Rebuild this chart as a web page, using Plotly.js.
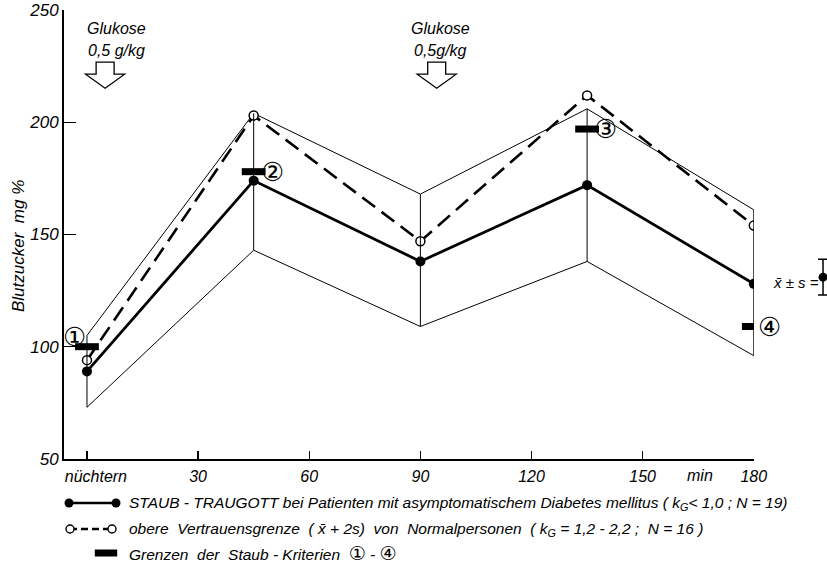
<!DOCTYPE html>
<html>
<head>
<meta charset="utf-8">
<script src="https://cdn.plot.ly/plotly-3.0.1.min.js"></script>
<style>html,body{margin:0;padding:0;background:#fff;}#chart{width:827px;height:571px;}</style>
</head>
<body>
<div id="chart"></div>
<script>
// ---- data ----
const times = [0, 45, 90, 135, 180];
const meanBZ = [89, 174, 138, 172, 128];          // STAUB-TRAUGOTT, Diabetes (x̄)
const upperBand = [105, 204, 168, 206, 161];      // x̄ + s
const lowerBand = [73, 143, 109, 138, 96];        // x̄ - s
const normalUpper = [94, 203, 147, 212, 154];     // obere Vertrauensgrenze (x̄+2s) Normalpersonen
const staubX = [0, 45, 135, 180];
const staubY = [100, 178, 197, 109];
const staubLabels = ['①', '②', '③', '④'];
const xTickVals = [0, 30, 60, 90, 120, 150, 180];
const xTickText = ['\u00a0\u00a0\u00a0\u00a0nüchtern', '30', '60', '90', '120', '150', '180'];
const yTickVals = [50, 100, 150, 200, 250];
const glucoseTimes = [4.9, 94.4];
const glucoseDose = ['0,5 g/kg', '0,5g/kg'];
const keyMean = [131];
const keyS = [8];

// ---- styling / layout constants ----
const FONT = '"Liberation Sans", Arial, sans-serif';
const W = 827, H = 571;
const plotL = 64, plotR = 754, plotT = 10, plotB = 459;
const staubShift = [[-12, 10], [19, 0], [18, 0], [16, 0]];
const glucoseTextShift = [11, 4];
const arrowPath = 'M -9 0 L 9 0 L 9 -12 L 19.5 -12 L 0 -26 L -19.5 -12 L -9 -12 Z';
const legendRowY = [503, 529, 553];
const legendTextX = 127;
const CIRC = s => '<span style="font-family:DejaVu Sans;font-size:19px">' + s + '</span>';

const traces = [];
traces.push({x: times, y: upperBand, mode: 'lines', line: {color: '#000', width: 1}, hoverinfo: 'skip'});
traces.push({x: times, y: lowerBand, mode: 'lines', line: {color: '#000', width: 1}, hoverinfo: 'skip'});
traces.push({x: times, y: normalUpper, mode: 'lines+markers',
  line: {color: '#000', width: 2.6, dash: '16px,8px'},
  marker: {symbol: 'circle', size: 9, color: '#fff', line: {color: '#000', width: 1.5}}});
traces.push({x: times, y: meanBZ, mode: 'lines+markers',
  line: {color: '#000', width: 2.8},
  marker: {symbol: 'circle', size: 10, color: '#000'},
  error_y: {type: 'data', symmetric: false,
    array: upperBand.map((u, i) => u - meanBZ[i]),
    arrayminus: lowerBand.map((l, i) => meanBZ[i] - l),
    width: 0, thickness: 1, color: '#000'}});
traces.push({x: staubX, y: staubY, mode: 'markers',
  marker: {symbol: 'line-ew', size: 17, color: '#000', line: {color: '#000', width: 7}}});
traces.push({x: [0.84], y: keyMean, xaxis: 'x2', yaxis: 'y', mode: 'markers',
  marker: {symbol: 'circle', size: 9, color: '#000'},
  error_y: {type: 'data', array: keyS, width: 5, thickness: 1.5, color: '#000'}});
// legend keys (pixel frame)
traces.push({x: [69, 116], y: [legendRowY[0], legendRowY[0]], xaxis: 'x3', yaxis: 'y3', mode: 'lines+markers',
  line: {color: '#000', width: 2.5}, marker: {size: 9, color: '#000'}});
traces.push({x: [70, 112], y: [legendRowY[1], legendRowY[1]], xaxis: 'x3', yaxis: 'y3', mode: 'lines+markers',
  line: {color: '#000', width: 2.5, dash: '7px,4px'},
  marker: {size: 8, color: '#fff', line: {color: '#000', width: 1.4}}});
traces.push({x: [106], y: [legendRowY[2]], xaxis: 'x3', yaxis: 'y3', mode: 'markers',
  marker: {symbol: 'line-ew', size: 16, color: '#000', line: {color: '#000', width: 7}}});

const annotations = [];
staubX.forEach((x, i) => annotations.push({x: x, y: staubY[i], xref: 'x', yref: 'y',
  text: staubLabels[i], showarrow: false, xanchor: 'center', yanchor: 'middle',
  xshift: staubShift[i][0], yshift: staubShift[i][1],
  font: {family: '"DejaVu Sans", sans-serif', size: 26, color: '#000'}}));
glucoseTimes.forEach((t, i) => {
  annotations.push({x: t, y: 242, xref: 'x', yref: 'y', text: 'Glukose', showarrow: false,
    xanchor: 'center', yanchor: 'middle', xshift: glucoseTextShift[i],
    font: {family: FONT, size: 16, color: '#000', style: 'italic'}});
  annotations.push({x: t, y: 232.2, xref: 'x', yref: 'y', text: glucoseDose[i], showarrow: false,
    xanchor: 'center', yanchor: 'middle', xshift: glucoseTextShift[i],
    font: {family: FONT, size: 16, color: '#000', style: 'italic'}});
});
annotations.push({x: 18 / W, y: 1 - 246 / H, xref: 'paper', yref: 'paper', text: 'Blutzucker  mg %',
  textangle: -90, showarrow: false, xanchor: 'center', yanchor: 'middle',
  font: {family: FONT, size: 17, color: '#000', style: 'italic'}});
annotations.push({x: 700 / W, y: 1 - 475 / H, xref: 'paper', yref: 'paper', text: 'min', showarrow: false,
  xanchor: 'center', yanchor: 'middle', font: {family: FONT, size: 16, color: '#000', style: 'italic'}});
annotations.push({x: 796 / W, y: 1 - 282 / H, xref: 'paper', yref: 'paper', text: 'x̄ ± s =', showarrow: false,
  xanchor: 'center', yanchor: 'middle', font: {family: FONT, size: 15, color: '#000', style: 'italic'}});
const legendTexts = [
  'STAUB - TRAUGOTT bei Patienten mit asymptomatischem Diabetes mellitus ( k<sub>G</sub>< 1,0 ; N = 19)',
  'obere  Vertrauensgrenze  ( x̄ + 2s)  von  Normalpersonen  ( k<sub>G</sub> = 1,2 - 2,2 ;  N = 16 )',
  'Grenzen  der  Staub - Kriterien  ' + CIRC('①') + ' - ' + CIRC('④')];
legendTexts.forEach((t, i) => annotations.push({x: legendTextX, y: legendRowY[i], xref: 'x3', yref: 'y3', text: t,
  xanchor: 'left', yanchor: 'middle', showarrow: false,
  font: {family: FONT, size: 15.5, color: '#000', style: 'italic'}}));

const shapes = glucoseTimes.map(t => ({type: 'path', xref: 'x', yref: 'y', xsizemode: 'pixel', ysizemode: 'pixel',
  xanchor: t, yanchor: 226.8, path: arrowPath, line: {color: '#000', width: 1.3}, fillcolor: '#fff'}));

const layout = {
  width: W, height: H, margin: {l: 0, r: 0, t: 0, b: 0},
  paper_bgcolor: '#fff', plot_bgcolor: 'rgba(0,0,0,0)', showlegend: false,
  font: {family: FONT, color: '#000'},
  xaxis: {domain: [plotL / W, plotR / W], range: [-6.2, 180.05], showgrid: false, zeroline: false,
    showline: true, linecolor: '#000', linewidth: 2, ticks: 'inside', ticklen: 8, tickwidth: 1.5, tickcolor: '#000',
    tickvals: xTickVals, ticktext: xTickText, ticklabelstandoff: 2,
    tickfont: {family: FONT, size: 16, color: '#000', style: 'italic'}, anchor: 'y'},
  yaxis: {domain: [1 - plotB / H, 1 - plotT / H], range: [49.95, 250.05], showgrid: false, zeroline: false,
    showline: true, linecolor: '#000', linewidth: 2, ticks: 'inside', ticklen: 12, tickwidth: 1.5, tickcolor: '#000',
    tickvals: yTickVals, tickfont: {family: FONT, size: 17, color: '#000', style: 'italic'}, anchor: 'x'},
  xaxis2: {domain: [0.97, 1], range: [0, 1], visible: false, anchor: 'y'},
  xaxis3: {domain: [0, 1], range: [0, W], visible: false, anchor: 'y3'},
  yaxis3: {domain: [0, 1], range: [H, 0], visible: false, anchor: 'x3'},
  annotations: annotations, shapes: shapes
};
Plotly.newPlot('chart', traces, layout, {staticPlot: true, displayModeBar: false});
</script>
</body>
</html>
